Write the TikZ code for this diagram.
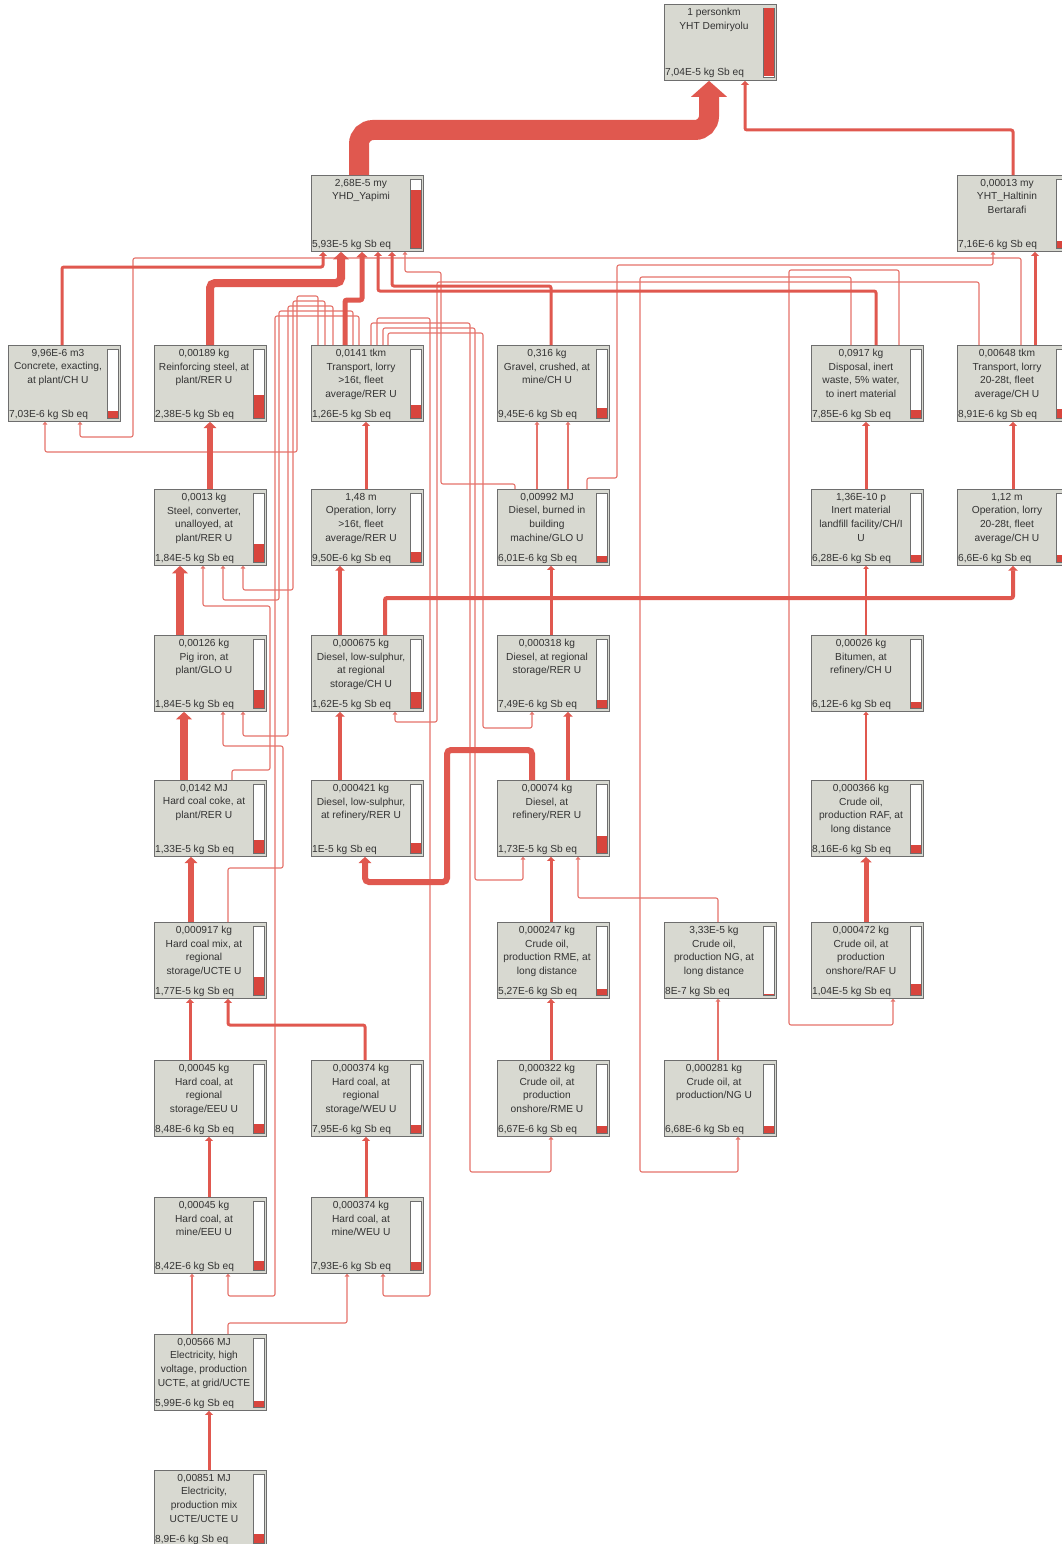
\documentclass[tikz,border=0pt]{standalone}
\usepackage{fontspec}
\setmainfont{Liberation Sans}
\usetikzlibrary{arrows.meta}
\definecolor{boxbg}{HTML}{D8D9D1}
\definecolor{boxln}{HTML}{6E6E6E}
\definecolor{lred}{HTML}{E0584F}
\definecolor{lpink}{HTML}{E5736B}
\definecolor{barred}{HTML}{D8453D}
\definecolor{txt}{HTML}{333333}
\tikzset{
  box/.style={draw=boxln, fill=boxbg, line width=0.8pt, minimum width=112pt, minimum height=76pt, inner sep=0pt, anchor=north west},
  hdr/.style={font=\fontsize{10.2}{13.6}\selectfont, text=txt, align=center, inner sep=0pt, anchor=north},
  ftr/.style={font=\fontsize{10.2}{11}\selectfont, text=txt, inner sep=0pt, anchor=base west},
  barframe/.style={draw=boxln, fill=white, line width=0.6pt},
  fl/.style={draw=lred, line width=#1pt, -{Triangle[length=2pt 0.7, width=3pt 1.6]}, rounded corners=2pt},
  thin flow/.style={fl=1.1, draw=lpink},
}
% process box: name, left x, top y, header, score, bar fraction
\newcommand\proc[6]{%
  \node[box] (#1) at (#2,#3) {};
  \node[hdr] at ({#2+50},{#3+4}) {#4};
  \node[ftr] at ({#2+1},{#3+72}) {#5};
  \draw[barframe] ({#2+99},{#3+4}) rectangle ({#2+110},{#3+73});
  \fill[barred] ({#2+99.5},{#3+72.5}) rectangle ({#2+109.5},{#3+72.5-68*#6});
}
\begin{document}
\begin{tikzpicture}[x=1pt,y=-1pt]
\useasboundingbox (0,0) rectangle (1062,1544);
\fill[white] (0,0) rectangle (1062,1544);

% ---- process boxes
\proc{top}{664}{4}{1 personkm\\YHT Demiryolu}{7,04E-5 kg Sb eq}{1}
\proc{yhd}{311}{175}{2,68E-5 my\\YHD\_Yapimi}{5,93E-5 kg Sb eq}{0.842}
\proc{halt}{957}{175}{0,00013 my\\YHT\_Haltinin\\Bertarafi}{7,16E-6 kg Sb eq}{0.102}

\proc{concrete}{8}{345}{9,96E-6 m3\\Concrete, exacting,\\at plant/CH U}{7,03E-6 kg Sb eq}{0.0999}
\proc{reinf}{154}{345}{0,00189 kg\\Reinforcing steel, at\\plant/RER U}{2,38E-5 kg Sb eq}{0.338}
\proc{trans16}{311}{345}{0,0141 tkm\\Transport, lorry\\>16t, fleet\\average/RER U}{1,26E-5 kg Sb eq}{0.179}
\proc{gravel}{497}{345}{0,316 kg\\Gravel, crushed, at\\mine/CH U}{9,45E-6 kg Sb eq}{0.134}
\proc{disposal}{811}{345}{0,0917 kg\\Disposal, inert\\waste, 5\% water,\\to inert material}{7,85E-6 kg Sb eq}{0.1115}
\proc{trans28}{957}{345}{0,00648 tkm\\Transport, lorry\\20-28t, fleet\\average/CH U}{8,91E-6 kg Sb eq}{0.1266}

\proc{steel}{154}{489}{0,0013 kg\\Steel, converter,\\unalloyed, at\\plant/RER U}{1,84E-5 kg Sb eq}{0.261}
\proc{oper16}{311}{489}{1,48 m\\Operation, lorry\\>16t, fleet\\average/RER U}{9,50E-6 kg Sb eq}{0.135}
\proc{dburn}{497}{489}{0,00992 MJ\\Diesel, burned in\\building\\machine/GLO U}{6,01E-6 kg Sb eq}{0.0854}
\proc{landfill}{811}{489}{1,36E-10 p\\Inert material\\landfill facility/CH/I\\U}{6,28E-6 kg Sb eq}{0.0892}
\proc{oper28}{957}{489}{1,12 m\\Operation, lorry\\20-28t, fleet\\average/CH U}{6,6E-6 kg Sb eq}{0.0938}

\proc{pig}{154}{635}{0,00126 kg\\Pig iron, at\\plant/GLO U}{1,84E-5 kg Sb eq}{0.261}
\proc{dlsreg}{311}{635}{0,000675 kg\\Diesel, low-sulphur,\\at regional\\storage/CH U}{1,62E-5 kg Sb eq}{0.23}
\proc{dreg}{497}{635}{0,000318 kg\\Diesel, at regional\\storage/RER U}{7,49E-6 kg Sb eq}{0.106}
\proc{bitumen}{811}{635}{0,00026 kg\\Bitumen, at\\refinery/CH U}{6,12E-6 kg Sb eq}{0.087}

\proc{coke}{154}{780}{0,0142 MJ\\Hard coal coke, at\\plant/RER U}{1,33E-5 kg Sb eq}{0.189}
\proc{dlsref}{311}{780}{0,000421 kg\\Diesel, low-sulphur,\\at refinery/RER U}{1E-5 kg Sb eq}{0.142}
\proc{dref}{497}{780}{0,00074 kg\\Diesel, at\\refinery/RER U}{1,73E-5 kg Sb eq}{0.246}
\proc{craf}{811}{780}{0,000366 kg\\Crude oil,\\production RAF, at\\long distance}{8,16E-6 kg Sb eq}{0.116}

\proc{coalmix}{154}{922}{0,000917 kg\\Hard coal mix, at\\regional\\storage/UCTE U}{1,77E-5 kg Sb eq}{0.251}
\proc{crme}{497}{922}{0,000247 kg\\Crude oil,\\production RME, at\\long distance}{5,27E-6 kg Sb eq}{0.0749}
\proc{cng}{664}{922}{3,33E-5 kg\\Crude oil,\\production NG, at\\long distance}{8E-7 kg Sb eq}{0.0114}
\proc{crafon}{811}{922}{0,000472 kg\\Crude oil, at\\production\\onshore/RAF U}{1,04E-5 kg Sb eq}{0.148}

\proc{coaleeu}{154}{1060}{0,00045 kg\\Hard coal, at\\regional\\storage/EEU U}{8,48E-6 kg Sb eq}{0.12}
\proc{coalweu}{311}{1060}{0,000374 kg\\Hard coal, at\\regional\\storage/WEU U}{7,95E-6 kg Sb eq}{0.113}
\proc{crmeon}{497}{1060}{0,000322 kg\\Crude oil, at\\production\\onshore/RME U}{6,67E-6 kg Sb eq}{0.0947}
\proc{cngon}{664}{1060}{0,000281 kg\\Crude oil, at\\production/NG U}{6,68E-6 kg Sb eq}{0.0949}

\proc{mineeeu}{154}{1197}{0,00045 kg\\Hard coal, at\\mine/EEU U}{8,42E-6 kg Sb eq}{0.119}
\proc{mineweu}{311}{1197}{0,000374 kg\\Hard coal, at\\mine/WEU U}{7,93E-6 kg Sb eq}{0.113}

\proc{elhv}{154}{1334}{0,00566 MJ\\Electricity, high\\voltage, production\\UCTE, at grid/UCTE}{5,99E-6 kg Sb eq}{0.085}
\proc{elmix}{154}{1470}{0,00851 MJ\\Electricity,\\production mix\\UCTE/UCTE U}{8,9E-6 kg Sb eq}{0.126}

% ---- thin long-distance flows (drawn first, under the main ones)
% from Transport, lorry >16t
\draw[thin flow] (trans16.north -| 318,0) -- (318,296) -- (297,296) -- (297,452) -- (45,452) -- (concrete.south -| 45,0);
\draw[thin flow] (trans16.north -| 325,0) -- (325,301) -- (293,301) -- (293,590) -- (243,590) -- (steel.south -| 243,0);
\draw[thin flow] (trans16.north -| 333,0) -- (333,306) -- (288,306) -- (288,736) -- (243,736) -- (pig.south -| 243,0);
\draw[thin flow] (trans16.north -| 353,0) -- (353,311) -- (279,311) -- (279,600) -- (223,600) -- (steel.south -| 223,0);
\draw[thin flow] (trans16.north -| 359,0) -- (359,316) -- (275,316) -- (275,1296) -- (228,1296) -- (mineeeu.south -| 228,0);
\draw[thin flow] (trans16.north -| 377,0) -- (377,318) -- (430,318) -- (430,1296) -- (383,1296) -- (mineweu.south -| 383,0);
\draw[thin flow] (trans16.north -| 371,0) -- (371,323) -- (470,323) -- (470,1172) -- (551,1172) -- (crmeon.south -| 551,0);
\draw[thin flow] (trans16.north -| 383,0) -- (383,328) -- (475,328) -- (475,880) -- (523,880) -- (dref.south -| 523,0);
\draw[thin flow] (trans16.north -| 388,0) -- (388,333) -- (483,333) -- (483,728) -- (532,728) -- (dreg.south -| 532,0);
% from the coal and coke plants
\draw[thin flow] (coalmix.north -| 228,0) -- (228,868) -- (283,868) -- (283,746) -- (223,746) -- (pig.south -| 223,0);
\draw[thin flow] (coke.north -| 232,0) -- (232,770) -- (270,770) -- (270,606) -- (203,606) -- (steel.south -| 203,0);
% from Transport, lorry 20-28t
\draw[thin flow] (trans28.north -| 1021,0) -- (1021,258) -- (133,258) -- (133,437) -- (80,437) -- (concrete.south -| 80,0);
\draw[thin flow] (trans28.north -| 979,0) -- (979,282) -- (437,282) -- (437,722) -- (395,722) -- (dlsreg.south -| 395,0);
% from Diesel, burned in building machine
\draw[thin flow] (dburn.north -| 587,0) -- (587,478) -- (617,478) -- (617,265) -- (993,265) -- (halt.south -| 993,0);
\draw[thin flow] (dburn.north -| 515,0) -- (515,484) -- (441,484) -- (441,272) -- (405,272) -- (yhd.south -| 405,0);
\draw[thin flow] (dburn.north -| 537,0) -- (gravel.south -| 537,0);
\draw[thin flow] (dburn.north -| 568,0) -- (gravel.south -| 568,0);
% from Disposal, inert waste
\draw[thin flow] (disposal.north -| 899,0) -- (899,270) -- (789,270) -- (789,1025) -- (893,1025) -- (crafon.south -| 893,0);
\draw[thin flow] (disposal.north -| 851,0) -- (851,277) -- (640,277) -- (640,1172) -- (738,1172) -- (cngon.south -| 738,0);

% ---- main flows (supplier top -> consumer bottom)
\draw[fl=20, rounded corners=14pt] (yhd.north -| 359,0) -- (359,130) -- (709,130) -- (top.south -| 709,0);
\draw[fl=3] (halt.north -| 1013,0) -- (1013,130) -- (745,130) -- (top.south -| 745,0);

\draw[fl=3] (concrete.north -| 62,0) -- (62,267) -- (323,267) -- (yhd.south -| 323,0);
\draw[fl=8, rounded corners=5pt] (reinf.north -| 210,0) -- (210,283) -- (341,283) -- (yhd.south -| 341,0);
\draw[fl=5] (trans16.north -| 345,0) -- (345,300) -- (362,300) -- (yhd.south -| 362,0);
\draw[fl=3] (gravel.north -| 551,0) -- (551,286) -- (392,286) -- (yhd.south -| 392,0);
\draw[fl=3] (disposal.north -| 876,0) -- (876,291) -- (378,291) -- (yhd.south -| 378,0);
\draw[fl=3] (trans28.north -| 1035,0) -- (halt.south -| 1035,0);

\draw[fl=6] (steel.north -| 210,0) -- (reinf.south -| 210,0);
\draw[fl=3] (oper16.north -| 366,0) -- (trans16.south -| 366,0);
\draw[fl=3] (landfill.north -| 866,0) -- (disposal.south -| 866,0);
\draw[fl=3] (oper28.north -| 1013,0) -- (trans28.south -| 1013,0);

\draw[fl=8] (pig.north -| 180,0) -- (steel.south -| 180,0);
\draw[fl=4] (dlsreg.north -| 340,0) -- (oper16.south -| 340,0);
\draw[fl=4] (dlsreg.north -| 385,0) -- (385,598) -- (1013,598) -- (oper28.south -| 1013,0);
\draw[fl=3] (dreg.north -| 551,0) -- (dburn.south -| 551,0);
\draw[fl=1.5] (bitumen.north -| 866,0) -- (landfill.south -| 866,0);

\draw[fl=8] (coke.north -| 184,0) -- (pig.south -| 184,0);
\draw[fl=4] (dlsref.north -| 340,0) -- (dlsreg.south -| 340,0);
\draw[fl=6, rounded corners=4pt] (dref.north -| 532,0) -- (532,750) -- (447,750) -- (447,882) -- (365,882) -- (dlsref.south -| 365,0);
\draw[fl=4] (dref.north -| 568,0) -- (dreg.south -| 568,0);
\draw[fl=1.5] (craf.north -| 866,0) -- (bitumen.south -| 866,0);

\draw[fl=6] (coalmix.north -| 191,0) -- (coke.south -| 191,0);
\draw[fl=3] (crme.north -| 551,0) -- (dref.south -| 551,0);
\draw[thin flow] (cng.north -| 718,0) -- (718,898) -- (578,898) -- (dref.south -| 578,0);
\draw[fl=5] (crafon.north -| 866,0) -- (craf.south -| 866,0);

\draw[fl=3] (coaleeu.north -| 190,0) -- (coalmix.south -| 190,0);
\draw[fl=3] (coalweu.north -| 365,0) -- (365,1025) -- (228,1025) -- (coalmix.south -| 228,0);
\draw[fl=3] (crmeon.north -| 551,0) -- (crme.south -| 551,0);
\draw[thin flow] (cngon.north -| 718,0) -- (cng.south -| 718,0);

\draw[fl=3] (mineeeu.north -| 209,0) -- (coaleeu.south -| 209,0);
\draw[fl=3] (mineweu.north -| 366,0) -- (coalweu.south -| 366,0);
\draw[thin flow] (elhv.north -| 192,0) -- (mineeeu.south -| 192,0);
\draw[thin flow] (elhv.north -| 228,0) -- (228,1323) -- (347,1323) -- (mineweu.south -| 347,0);
\draw[fl=3] (elmix.north -| 209,0) -- (elhv.south -| 209,0);
\end{tikzpicture}
\end{document}
